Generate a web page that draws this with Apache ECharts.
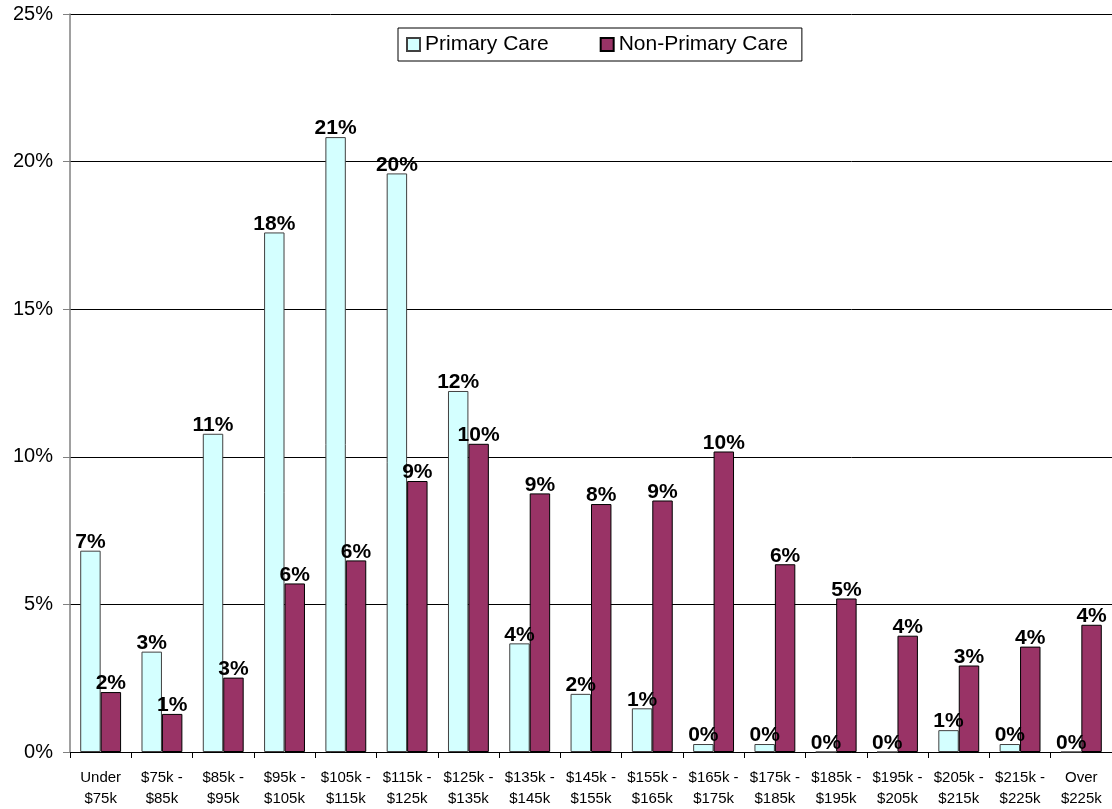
<!DOCTYPE html>
<html>
<head>
<meta charset="utf-8">
<script src="https://cdn.jsdelivr.net/npm/echarts@6/dist/echarts.min.js"></script>
<style>
html,body{margin:0;padding:0;background:#fff;}
#chart{width:1112px;height:809px;}
</style>
</head>
<body>
<div id="chart"></div>
<script>
var categories = ['Under\n$75k','$75k -\n$85k','$85k -\n$95k','$95k -\n$105k','$105k -\n$115k','$115k -\n$125k','$125k -\n$135k','$135k -\n$145k','$145k -\n$155k','$155k -\n$165k','$165k -\n$175k','$175k -\n$185k','$185k -\n$195k','$195k -\n$205k','$205k -\n$215k','$215k -\n$225k','Over\n$225k'];
var primaryCare = [6.82, 3.40, 10.78, 17.6, 20.83, 19.6, 12.23, 3.68, 1.97, 1.48, 0.27, 0.27, 0, 0, 0.74, 0.27, 0];
var nonPrimaryCare = [2.03, 1.29, 2.52, 5.71, 6.49, 9.18, 10.44, 8.76, 8.40, 8.52, 10.18, 6.36, 5.20, 3.94, 2.93, 3.57, 4.31];
var yTicks = [0, 5, 10, 15, 20, 25];

var FONT = 'Arial, "Liberation Sans", sans-serif';
var chart = echarts.init(document.getElementById('chart'), null, {renderer: 'canvas'});
var labelCfg = {
  show: true, position: 'top', distance: -2,
  fontFamily: FONT, fontSize: 21, fontWeight: 'bold', color: '#000',
  formatter: function (p) { return Math.round(p.value) + '%'; }
};
chart.setOption({
  animation: false,
  backgroundColor: '#fff',
  legend: {
    left: 398, top: 28,
    padding: [6, 14, 6, 8],
    itemGap: 51,
    itemWidth: 13, itemHeight: 13,
    icon: 'rect',
    borderColor: '#000', borderWidth: 1,
    backgroundColor: '#fff',
    textStyle: {fontFamily: FONT, fontSize: 21, color: '#000'},
    data: ['Primary Care', 'Non-Primary Care']
  },
  grid: {left: 70, top: 14, width: 1044.6, height: 738},
  xAxis: {
    type: 'category',
    data: categories,
    boundaryGap: true,
    axisLine: {lineStyle: {color: '#000', width: 1}},
    axisTick: {show: true, length: 6, alignWithLabel: false, lineStyle: {color: '#000'}},
    axisLabel: {interval: 0, margin: 15, fontFamily: FONT, fontSize: 15, color: '#000', lineHeight: 21}
  },
  yAxis: {
    type: 'value',
    min: yTicks[0], max: yTicks[yTicks.length - 1], interval: 5,
    axisLine: {show: true, lineStyle: {color: '#808080', width: 1.5}},
    axisTick: {show: true, length: 7, inside: false, lineStyle: {color: '#808080'}},
    splitLine: {show: true, lineStyle: {color: '#000', width: 1}},
    axisLabel: {margin: 17, fontFamily: FONT, fontSize: 20, color: '#000', formatter: function (v) { return v + '%'; }}
  },
  series: [
    {
      name: 'Primary Care', type: 'bar', data: primaryCare,
      barGap: '0%', barCategoryGap: '33.3%',
      itemStyle: {color: '#D4FFFF', borderColor: '#404040', borderWidth: 1},
      label: labelCfg
    },
    {
      name: 'Non-Primary Care', type: 'bar', data: nonPrimaryCare,
      barGap: '0%', barCategoryGap: '33.3%',
      itemStyle: {color: '#993366', borderColor: '#000', borderWidth: 1},
      label: labelCfg
    }
  ]
});
</script>
</body>
</html>
